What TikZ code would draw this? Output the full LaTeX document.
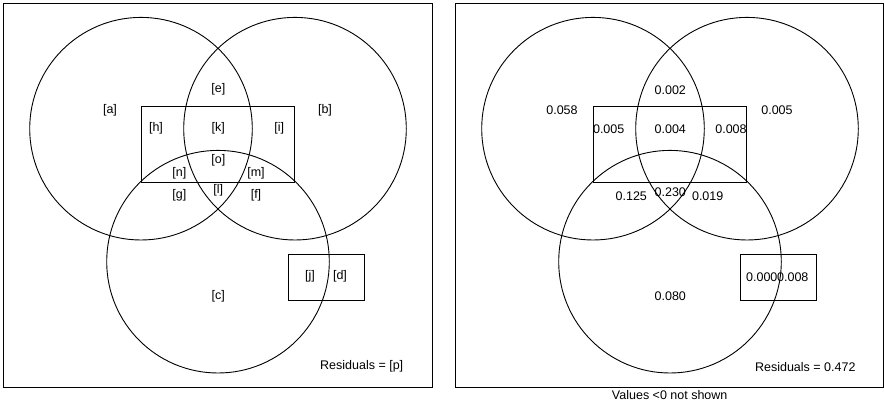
\documentclass[tikz,border=0pt]{standalone}
\usepackage{fontspec}
\setmainfont{Liberation Sans}
\begin{document}
\begin{tikzpicture}[x=1pt,y=-1pt,
  shape line/.style={line width=0.9pt},
  lbl/.style={inner sep=0pt,font=\fontsize{12.5}{14}\selectfont}]
\useasboundingbox (0,0) rectangle (884,403);
% ---------- left panel ----------
\draw[shape line] (3.3,3.3) rectangle (432.7,387.3);
\draw[shape line] (141,128.7) circle (111.3);
\draw[shape line] (295,128.7) circle (111.3);
\draw[shape line] (218,261.7) circle (111.3);
\draw[shape line] (141.3,106) rectangle (294.7,182.7);
\draw[shape line] (288,254.3) rectangle (364.7,300.3);
\node[lbl] (la) at (110,110) {[a]};
\node[lbl] (lb) at (325,110) {[b]};
\node[lbl] (le) at (218.3,89.3) {[e]};
\node[lbl] (lh) at (156,128.3) {[h]};
\node[lbl] (lk) at (218.3,128.3) {[k]};
\node[lbl] (li) at (279.3,128.3) {[i]};
\node[lbl] (lo) at (218.3,160.7) {[o]};
\node[lbl] (ln) at (179.3,173.3) {[n]};
\node[lbl] (lm) at (256,173.3) {[m]};
\node[lbl] (lg) at (179.3,195) {[g]};
\node[lbl] (ll) at (218.3,190.7) {[l]};
\node[lbl] (lf) at (256,195) {[f]};
\node[lbl] (lj) at (310,276.7) {[j]};
\node[lbl] (ld) at (340,276.7) {[d]};
\node[lbl] (lc) at (218.3,296) {[c]};
\node[lbl] (lp) at (361.7,366.7) {Residuals = [p]};
% ---------- right panel ----------
\begin{scope}[xshift=452pt]
\draw[shape line] (3.3,3.3) rectangle (431,387.3);
\draw[shape line] (141,128.7) circle (111.3);
\draw[shape line] (295,128.7) circle (111.3);
\draw[shape line] (218,261.7) circle (111.3);
\draw[shape line] (141.3,106) rectangle (294.7,182.7);
\draw[shape line] (288,254.3) rectangle (364.7,300.3);
\node[lbl] (ra) at (110,110) {0.058};
\node[lbl] (rb) at (325,110) {0.005};
\node[lbl] (re) at (218.3,90) {0.002};
\node[lbl] (rh) at (156.7,129) {0.005};
\node[lbl] (rk) at (218.3,129) {0.004};
\node[lbl] (ri) at (279,129) {0.008};
\node[lbl] (rg) at (179.3,195.7) {0.125};
\node[lbl] (rl) at (218.3,191.7) {0.230};
\node[lbl] (rf) at (255.7,195.7) {0.019};
\node[lbl] (rj) at (309.8,277.3) {0.000};
\node[lbl] (rd) at (340.8,277.3) {0.008};
\node[lbl] (rc) at (218.3,296) {0.080};
\node[lbl] (rp) at (353.3,366.7) {Residuals = 0.472};
\node[lbl] (rv) at (217.7,395) {Values <0 not shown};
\end{scope}
\end{tikzpicture}
\end{document}
